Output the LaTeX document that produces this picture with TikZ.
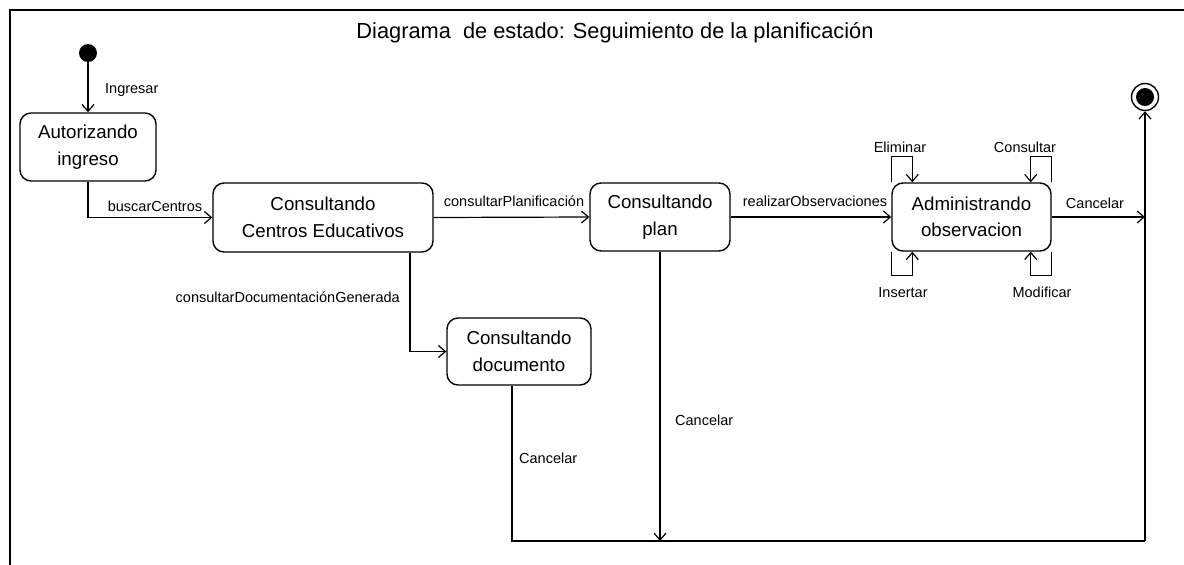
\documentclass[tikz,border=0pt]{standalone}
\usepackage{fontspec}
\setmainfont{Liberation Sans}
\usetikzlibrary{arrows.meta}
\begin{document}
\begin{tikzpicture}[x=1pt,y=-1pt,
  stbox/.style={draw, rounded corners=11pt, line width=1.4pt, align=center, inner sep=0pt,
     font=\fontsize{18.7}{26.5}\selectfont},
  lbl/.style={font=\fontsize{14.5}{16}\selectfont, inner sep=0pt},
  arr/.style={line width=1.2pt, -{Straight Barb[length=7pt,width=12pt]}},
  ln/.style={line width=1.2pt},
  frame/.style={line width=2pt}]
\useasboundingbox (0,0) rectangle (1184,565);
% frame
\draw[frame] (10,565) -- (10,10) -- (1184,10);
\node[font=\fontsize{21.8}{24}\selectfont, inner sep=0pt] (title) at (615,33) {Diagrama\ \ de estado: Seguimiento de la planificación};
% states
\node[circle, fill=black, minimum size=18pt, inner sep=0pt] (init) at (88,53) {};
\node[circle, draw, line width=1.4pt, minimum size=27pt, inner sep=0pt] (fin) at (1145,97) {};
\fill (fin.center) circle (9pt);
\node[stbox, minimum width=136pt, minimum height=68pt] (aut) at (88,147) {Autorizando\\ingreso};
\node[stbox, minimum width=220pt, minimum height=69pt] (cen) at (323,217.5) {Consultando\\Centros Educativos};
\node[stbox, minimum width=140pt, minimum height=68pt] (plan) at (660,217) {Consultando\\plan};
\node[stbox, minimum width=159pt, minimum height=68pt] (adm) at (971.5,217) {Administrando\\observacion};
\node[stbox, minimum width=144pt, minimum height=67pt] (doc) at (519,351.5) {Consultando\\documento};
% helper coordinates
\coordinate (jn) at (1145,217);
\coordinate (pbot) at (660,541);
\coordinate (dcorner) at (512,541);
\coordinate (fcorner) at (1145,541);
% transitions
\draw[arr] (init) -- (aut);
\node[lbl, anchor=west] (l1) at (105,90) {Ingresar};
\draw[arr] (aut.south) |- (cen.west);
\node[lbl] (l2) at (155,206) {buscarCentros};
\draw[arr] (cen.east) -- (plan.west);
\node[lbl] (l3) at (514,201) {consultarPlanificación};
\draw[arr] (plan.east) -- (adm.west);
\node[lbl] (l4) at (815,201) {realizarObservaciones};
\draw[arr] (adm.east) -- (jn);
\node[lbl] (l5) at (1095,203) {Cancelar};
\draw[arr] ([xshift=87pt]cen.south) |- (doc.west);
\node[lbl, anchor=east] (l6) at (400,297) {consultarDocumentaciónGenerada};
\draw[arr] (plan.south) -- (pbot);
\node[lbl, anchor=west] (l7) at (675,420) {Cancelar};
\draw[ln] ([xshift=-7pt]doc.south) -- (dcorner) -- (fcorner);
\draw[arr] (fcorner) -- (fin.south);
\node[lbl, anchor=west] (l8) at (519,458) {Cancelar};
% self loops
\draw[arr] (adm.north west) -- ++(0,-26) -| ([xshift=21pt]adm.north west);
\node[lbl] (l9) at (900,147) {Eliminar};
\draw[arr] (adm.north east) -- ++(0,-26) -| ([xshift=-21pt]adm.north east);
\node[lbl] (l10) at (1025,147) {Consultar};
\draw[arr] (adm.south west) -- ++(0,24) -| ([xshift=21pt]adm.south west);
\node[lbl] (l11) at (903,293) {Insertar};
\draw[arr] (adm.south east) -- ++(0,24) -| ([xshift=-21pt]adm.south east);
\node[lbl] (l12) at (1042,292) {Modificar};
\end{tikzpicture}
\end{document}
